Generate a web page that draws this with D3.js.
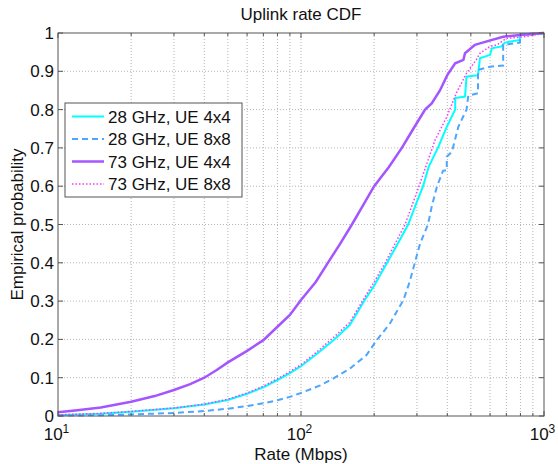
<!DOCTYPE html>
<html>
<head>
<meta charset="utf-8">
<script src="https://cdn.jsdelivr.net/npm/d3@7"></script>
<style>
  body { margin: 0; background: #fff; }
  svg { font-family: "Liberation Sans", Arial, sans-serif; }
</style>
</head>
<body>
<svg class="main"></svg>
<script>
// series data
const seriesNames = ["28 GHz, UE 4x4", "28 GHz, UE 8x8", "73 GHz, UE 4x4", "73 GHz, UE 8x8"];

const rate28_4x4 = [10, 15, 20, 30, 40, 50, 60, 70, 80, 90, 100, 115, 136, 159, 183, 200, 226, 250, 276, 300, 318, 335, 353, 366, 398, 431, 431, 473, 480, 535, 545, 600, 610, 668, 690, 796, 796, 990, 1000];
const prob28_4x4 = [0.002, 0.006, 0.011, 0.02, 0.03, 0.042, 0.058, 0.075, 0.094, 0.112, 0.13, 0.16, 0.198, 0.238, 0.303, 0.34, 0.4, 0.45, 0.5, 0.56, 0.6, 0.65, 0.68, 0.7, 0.755, 0.8, 0.83, 0.834, 0.886, 0.89, 0.934, 0.943, 0.96, 0.965, 0.975, 0.982, 0.995, 0.998, 1];

const rate28_8x8 = [10, 15, 20, 30, 40, 50, 60, 70, 80, 90, 100, 120, 136, 159, 186, 205, 232, 264, 280, 294, 309, 333, 346, 363, 384, 398, 398, 418, 444, 480, 488, 535, 535, 600, 679, 679, 796, 800, 990, 1000];
const prob28_8x8 = [0.001, 0.002, 0.004, 0.008, 0.013, 0.019, 0.026, 0.033, 0.041, 0.05, 0.06, 0.08, 0.098, 0.124, 0.159, 0.198, 0.241, 0.303, 0.35, 0.4, 0.45, 0.5, 0.55, 0.6, 0.64, 0.642, 0.677, 0.69, 0.755, 0.8, 0.836, 0.843, 0.904, 0.912, 0.915, 0.969, 0.975, 0.997, 1, 1];

const rate73_4x4 = [10, 12, 15, 20, 25, 30, 35, 40, 45, 50, 60, 70, 80, 90, 100, 115, 129, 145, 162, 180, 200, 230, 260, 290, 324, 345, 373, 400, 431, 466, 473, 520, 545, 679, 796, 990, 1000];
const prob73_4x4 = [0.01, 0.015, 0.022, 0.037, 0.052, 0.068, 0.083, 0.1, 0.12, 0.14, 0.17, 0.198, 0.233, 0.264, 0.303, 0.35, 0.4, 0.45, 0.5, 0.55, 0.6, 0.65, 0.7, 0.75, 0.8, 0.816, 0.85, 0.89, 0.921, 0.93, 0.947, 0.969, 0.973, 0.99, 0.995, 1, 1];

const rate73_8x8 = [10, 15, 20, 30, 40, 50, 60, 70, 80, 90, 100, 115, 136, 159, 183, 200, 222, 268, 306, 330, 356, 398, 437, 480, 526, 545, 600, 640, 700, 820, 963, 1000];
const prob73_8x8 = [0.003, 0.007, 0.012, 0.021, 0.031, 0.044, 0.06, 0.078, 0.097, 0.116, 0.134, 0.165, 0.205, 0.245, 0.31, 0.35, 0.4, 0.5, 0.6, 0.66, 0.72, 0.781, 0.845, 0.895, 0.93, 0.947, 0.965, 0.969, 0.986, 0.99, 0.997, 1];

const xTicks = [10, 100, 1000];
const xTickExp = ["1", "2", "3"];
const yTicks = [0, 0.1, 0.2, 0.3, 0.4, 0.5, 0.6, 0.7, 0.8, 0.9, 1];

const width = 558, height = 464;
const m = { left: 58, right: 544, top: 33, bottom: 416 };

const svg = d3.select("svg.main")
    .attr("width", width)
    .attr("height", height);

const x = d3.scaleLog().domain([10, 1000]).range([m.left, m.right]);
const y = d3.scaleLinear().domain([0, 1]).range([m.bottom, m.top]);

// minor log ticks for the grid
let minor = [];
for (let d = 10; d < 1000; d *= 10) {
    for (let k = 2; k <= 9; k++) minor.push(d * k);
}

const grid = svg.append("g");
grid.selectAll("line.gx")
    .data(minor.concat([100]))
    .enter().append("line")
    .attr("x1", d => x(d)).attr("x2", d => x(d))
    .attr("y1", m.top).attr("y2", m.bottom)
    .style("stroke", "#b4b4b4")
    .style("stroke-width", 1)
    .style("stroke-dasharray", "1,2");
grid.selectAll("line.gy")
    .data(yTicks.slice(1, -1))
    .enter().append("line")
    .attr("x1", m.left).attr("x2", m.right)
    .attr("y1", d => y(d)).attr("y2", d => y(d))
    .style("stroke", "#b4b4b4")
    .style("stroke-width", 1)
    .style("stroke-dasharray", "1,2");

// curves
const series = [
    { xs: rate28_4x4, ys: prob28_4x4, color: "#00ffff", w: 2, dash: null },
    { xs: rate28_8x8, ys: prob28_8x8, color: "#4da6ff", w: 2, dash: "6,4" },
    { xs: rate73_4x4, ys: prob73_4x4, color: "#a455ff", w: 2.5, dash: null },
    { xs: rate73_8x8, ys: prob73_8x8, color: "#ff33ff", w: 1.5, dash: "1.5,2" }
];

const line = d3.line()
    .x(d => x(d[0]))
    .y(d => y(d[1]));

const curves = svg.append("g");
series.forEach(function(s) {
    curves.append("path")
        .datum(s.xs.map((v, i) => [v, s.ys[i]]))
        .attr("d", line)
        .style("fill", "none")
        .style("stroke", s.color)
        .style("stroke-width", s.w)
        .style("stroke-dasharray", s.dash);
});

// axes box
svg.append("rect")
    .attr("x", m.left).attr("y", m.top)
    .attr("width", m.right - m.left).attr("height", m.bottom - m.top)
    .style("fill", "none")
    .style("stroke", "#555")
    .style("stroke-width", 1);

// x ticks (inside, bottom and top)
const xAll = minor.map(d => ({ v: d, len: 3 })).concat(xTicks.map(d => ({ v: d, len: 5 })));
svg.selectAll("line.xtb")
    .data(xAll).enter().append("line")
    .attr("x1", d => x(d.v)).attr("x2", d => x(d.v))
    .attr("y1", m.bottom).attr("y2", d => m.bottom - d.len)
    .style("stroke", "#555");
svg.selectAll("line.xtt")
    .data(xAll).enter().append("line")
    .attr("x1", d => x(d.v)).attr("x2", d => x(d.v))
    .attr("y1", m.top).attr("y2", d => m.top + d.len)
    .style("stroke", "#555");
// y ticks
svg.selectAll("line.ytl")
    .data(yTicks).enter().append("line")
    .attr("x1", m.left).attr("x2", m.left + 5)
    .attr("y1", d => y(d)).attr("y2", d => y(d))
    .style("stroke", "#555");
svg.selectAll("line.ytr")
    .data(yTicks).enter().append("line")
    .attr("x1", m.right).attr("x2", m.right - 5)
    .attr("y1", d => y(d)).attr("y2", d => y(d))
    .style("stroke", "#555");

// tick labels
svg.selectAll("text.ylab")
    .data(yTicks).enter().append("text")
    .attr("x", m.left - 4)
    .attr("y", d => y(d) + 6)
    .attr("text-anchor", "end")
    .style("font-size", "17px")
    .style("fill", "#111")
    .text(d => d3.format("")(d));

const xl = svg.selectAll("text.xlab")
    .data(xTicks).enter().append("text")
    .attr("x", d => x(d) - 1.5)
    .attr("y", 440)
    .attr("text-anchor", "middle")
    .style("font-size", "17px")
    .style("fill", "#111");
xl.append("tspan").text("10");
xl.append("tspan")
    .attr("dy", -7)
    .style("font-size", "12px")
    .text((d, i) => xTickExp[i]);

// titles
svg.append("text")
    .attr("x", (m.left + m.right) / 2).attr("y", 20)
    .attr("text-anchor", "middle")
    .style("font-size", "17px")
    .style("fill", "#111")
    .text("Uplink rate CDF");
svg.append("text")
    .attr("x", (m.left + m.right) / 2).attr("y", 459.5)
    .attr("text-anchor", "middle")
    .style("font-size", "17px")
    .style("fill", "#111")
    .text("Rate (Mbps)");
svg.append("text")
    .attr("transform", `translate(23, ${(m.top + m.bottom) / 2}) rotate(-90)`)
    .attr("text-anchor", "middle")
    .style("font-size", "17px")
    .style("fill", "#111")
    .text("Empirical probability");

// legend
const leg = svg.append("g");
leg.append("rect")
    .attr("x", 65).attr("y", 103)
    .attr("width", 177).attr("height", 94)
    .style("fill", "#fff")
    .style("stroke", "#555")
    .style("stroke-width", 1);
series.forEach(function(s, i) {
    const ly = 116.5 + i * 22.5;
    leg.append("line")
        .attr("x1", 72).attr("x2", 104)
        .attr("y1", ly).attr("y2", ly)
        .style("stroke", s.color)
        .style("stroke-width", s.w)
        .style("stroke-dasharray", s.dash);
    leg.append("text")
        .attr("x", 108).attr("y", ly + 6)
        .style("font-size", "17px")
        .style("fill", "#111")
        .text(seriesNames[i]);
});
</script>
</body>
</html>
